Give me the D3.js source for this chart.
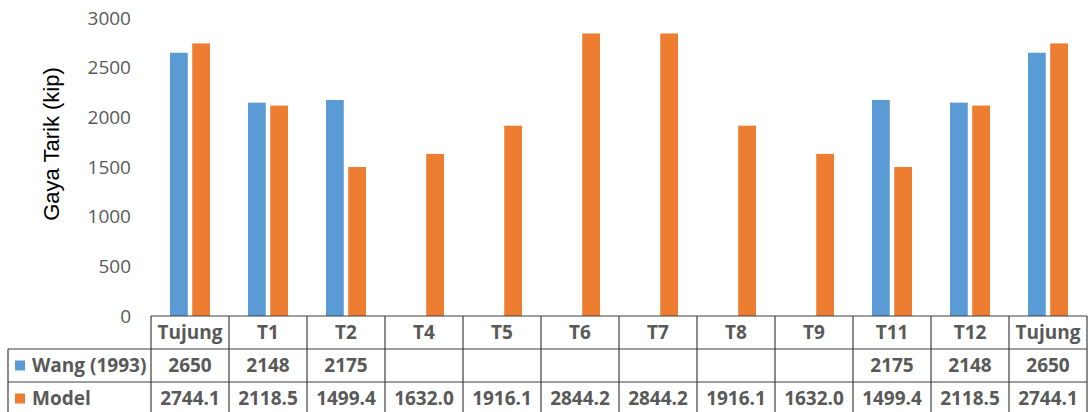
<!DOCTYPE html>
<html>
<head>
<meta charset="utf-8">
<script src="https://cdn.jsdelivr.net/npm/d3@7"></script>
<style>
  html, body { margin: 0; padding: 0; background: #fff; }
  svg { display: block; }
</style>
</head>
<body>
<svg id="chart" width="1088" height="412"></svg>
<script>
// Cable tension per location: reference values vs. model results
const categories = ["Tujung", "T1", "T2", "T4", "T5", "T6", "T7", "T8", "T9", "T11", "T12", "Tujung"];
const seriesNames = ["Wang (1993)", "Model"];
const wangValues = [2650, 2148, 2175, null, null, null, null, null, null, 2175, 2148, 2650];
const modelValues = [2744.1, 2118.5, 1499.4, 1632.0, 1916.1, 2844.2, 2844.2, 1916.1, 1632.0, 1499.4, 2118.5, 2744.1];
const modelLabels = ["2744.1", "2118.5", "1499.4", "1632.0", "1916.1", "2844.2", "2844.2", "1916.1", "1632.0", "1499.4", "2118.5", "2744.1"];
const yTicks = [0, 500, 1000, 1500, 2000, 2500, 3000];
const seriesColors = ["#5B9BD5", "#ED7D31"];

const svg = d3.select("#chart");
const plotLeft = 151, plotRight = 1087, plotTop = 18, plotBottom = 316;
const rowH = 33;
const legendLeft = 8;
const tableFont = "'Open Sans', sans-serif";

const x = d3.scaleBand().domain(d3.range(categories.length)).range([plotLeft, plotRight]);
const x1 = d3.scaleBand().domain(seriesNames).range([-20, 20]).paddingInner(0.2);
const y = d3.scaleLinear().domain([0, 3000]).range([plotBottom, plotTop]);

const valueSets = [wangValues, modelValues];

// bars
seriesNames.forEach((name, si) => {
  svg.append("g").selectAll("rect")
    .data(valueSets[si].map((v, i) => ({ v, i })).filter(d => d.v != null))
    .join("rect")
    .attr("x", d => x(d.i) + x.bandwidth() / 2 + x1(name))
    .attr("width", x1.bandwidth())
    .attr("y", d => y(d.v))
    .attr("height", d => y(0) - y(d.v))
    .attr("fill", seriesColors[si]);
});

// y axis labels
const yAxis = d3.axisLeft(y).tickValues(yTicks).tickFormat(d3.format("d")).tickSize(0).tickPadding(0);
const yg = svg.append("g").attr("transform", `translate(131,0)`).call(yAxis);
yg.select(".domain").remove();
yg.selectAll("text")
  .attr("font-family", tableFont)
  .attr("font-weight", 500)
  .attr("font-size", 19)
  .attr("fill", "#595959");

// y axis title
svg.append("text")
  .attr("transform", `translate(59,144) rotate(-90)`)
  .attr("text-anchor", "middle")
  .attr("font-family", "'Liberation Sans', Arial, sans-serif")
  .attr("font-size", 22)
  .attr("fill", "#000")
  .text("Gaya Tarik (kip)");

// data table
const lineColor = "#3f3f3f";
const tbl = svg.append("g").attr("stroke", lineColor).attr("stroke-width", 1.2).attr("fill", "none");
// horizontal rules
tbl.append("line").attr("x1", plotLeft).attr("x2", plotRight).attr("y1", plotBottom).attr("y2", plotBottom);
[1, 2, 3].forEach(r => {
  tbl.append("line").attr("x1", legendLeft).attr("x2", plotRight)
    .attr("y1", plotBottom + r * rowH).attr("y2", plotBottom + r * rowH);
});
// vertical rules
tbl.append("line").attr("x1", legendLeft).attr("x2", legendLeft)
  .attr("y1", plotBottom + rowH).attr("y2", plotBottom + 3 * rowH);
d3.range(categories.length + 1).forEach(i => {
  const xv = i < categories.length ? x(i) : plotRight;
  tbl.append("line").attr("x1", xv).attr("x2", xv)
    .attr("y1", plotBottom).attr("y2", plotBottom + 3 * rowH);
});

const cellText = (g, xv, yv, txt) => g.append("text")
  .attr("x", xv).attr("y", yv)
  .attr("dy", "0.35em")
  .attr("text-anchor", "middle")
  .attr("font-family", tableFont)
  .attr("font-weight", 700)
  .attr("font-size", 19)
  .attr("fill", "#595959")
  .text(txt);

const txt = svg.append("g");
categories.forEach((c, i) => {
  const cx = x(i) + x.bandwidth() / 2;
  cellText(txt, cx, plotBottom + rowH * 0.5, c);
  if (wangValues[i] != null) cellText(txt, cx, plotBottom + rowH * 1.5, String(wangValues[i]));
  cellText(txt, cx, plotBottom + rowH * 2.5, modelLabels[i]);
});

// legend keys in table rows
seriesNames.forEach((name, si) => {
  const cy = plotBottom + rowH * (1.5 + si);
  svg.append("rect")
    .attr("x", 15).attr("y", cy - 5).attr("width", 10).attr("height", 10)
    .attr("fill", seriesColors[si]);
  svg.append("text")
    .attr("x", 32).attr("y", cy).attr("dy", "0.35em")
    .attr("font-family", tableFont)
    .attr("font-weight", 700)
    .attr("font-size", 19)
    .attr("fill", "#595959")
    .text(name);
});
</script>
</body>
</html>
